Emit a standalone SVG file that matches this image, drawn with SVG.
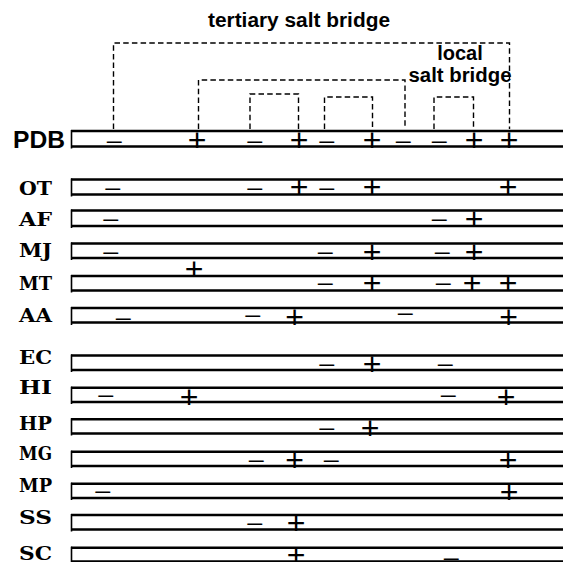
<svg xmlns="http://www.w3.org/2000/svg" width="563" height="562" viewBox="0 0 563 562">
<style>
.bg{fill:#fff}
.hl{stroke:#000;stroke-width:2.4;fill:none}
.vl{stroke:#000;stroke-width:1.6;fill:none}
.dash{stroke:#000;stroke-width:1.4;fill:none;stroke-dasharray:5.5 3.2}
.lab{font-family:"DejaVu Serif","Liberation Serif",serif;font-weight:bold;font-size:18px;fill:#000}
.pdb{font-family:"Liberation Sans",Arial,sans-serif;font-weight:bold;font-size:23px;fill:#000}
.ttl{font-family:"Liberation Sans",Arial,sans-serif;font-weight:bold;font-size:20px;fill:#000;text-anchor:middle}
.s{font-family:"Liberation Sans",Arial,sans-serif;font-size:32px;fill:#000;text-anchor:middle}
.m{font-family:"Liberation Serif","Times New Roman",serif;font-size:32px;fill:#000;text-anchor:middle}
</style>
<rect class="bg" x="0" y="0" width="563" height="562"/>

<g id="titles">
<text class="ttl" x="299" y="27" textLength="182" lengthAdjust="spacingAndGlyphs">tertiary salt bridge</text>
<text class="ttl" x="460" y="60">local</text>
<text class="ttl" x="460" y="82" textLength="103" lengthAdjust="spacingAndGlyphs">salt bridge</text>
</g>

<g id="connectors">
<path class="dash" d="M113.5,129 V43 H509.5 V129"/>
<path class="dash" d="M198.5,129 V80 H405 V129"/>
<path class="dash" d="M250,129 V94 H298.5 V129"/>
<path class="dash" d="M324.5,129 V97 H372.5 V129"/>
<path class="dash" d="M434,129 V97 H473.5 V129"/>
</g>

<g id="row-PDB">
<text class="pdb" x="13" y="148" textLength="52" lengthAdjust="spacingAndGlyphs">PDB</text>
<path class="hl" d="M563,131 H71 M71,146.5 H563"/>
<line class="vl" x1="71.5" y1="130" x2="71.5" y2="148.5"/>
<text class="m" x="114" y="153">−</text>
<text class="s" x="197" y="151.3">+</text>
<text class="m" x="254.5" y="153">−</text>
<text class="s" x="299" y="151.3">+</text>
<text class="m" x="326.5" y="153">−</text>
<text class="s" x="372" y="151.3">+</text>
<text class="m" x="403" y="153">−</text>
<text class="m" x="439" y="153">−</text>
<text class="s" x="474" y="151.3">+</text>
<text class="s" x="509" y="151.3">+</text>
</g>

<g id="row-OT">
<text class="lab" x="19" y="195" textLength="33" lengthAdjust="spacingAndGlyphs">OT</text>
<path class="hl" d="M563,179.5 H71 M71,194.5 H563"/>
<line class="vl" x1="71.5" y1="178.5" x2="71.5" y2="196.5"/>
<text class="m" x="112.5" y="199.7">−</text>
<text class="m" x="254.5" y="199.7">−</text>
<text class="s" x="299" y="198.3">+</text>
<text class="m" x="326.5" y="199.7">−</text>
<text class="s" x="372" y="198.3">+</text>
<text class="s" x="508" y="198.3">+</text>
</g>

<g id="row-AF">
<text class="lab" x="19" y="226" textLength="33" lengthAdjust="spacingAndGlyphs">AF</text>
<path class="hl" d="M563,210.5 H71 M71,226 H563"/>
<line class="vl" x1="71.5" y1="209.5" x2="71.5" y2="228"/>
<text class="m" x="110.5" y="231.3">−</text>
<text class="m" x="439" y="231.3">−</text>
<text class="s" x="474" y="229.8">+</text>
</g>

<g id="row-MJ">
<text class="lab" x="19" y="256.7" textLength="33" lengthAdjust="spacingAndGlyphs">MJ</text>
<path class="hl" d="M563,243.5 H71 M71,258 H563"/>
<line class="vl" x1="71.5" y1="242.5" x2="71.5" y2="260"/>
<text class="m" x="110.5" y="263.7">−</text>
<text class="s" x="194" y="279.5">+</text>
<text class="m" x="325" y="263.7">−</text>
<text class="s" x="372" y="262.5">+</text>
<text class="m" x="442" y="263.7">−</text>
<text class="s" x="474" y="262.5">+</text>
</g>

<g id="row-MT">
<text class="lab" x="19" y="290" textLength="33" lengthAdjust="spacingAndGlyphs">MT</text>
<path class="hl" d="M563,276 H71 M71,290.5 H563"/>
<line class="vl" x1="71.5" y1="275" x2="71.5" y2="292.5"/>
<text class="m" x="325" y="295.3">−</text>
<text class="s" x="372" y="294.3">+</text>
<text class="m" x="443" y="295.3">−</text>
<text class="s" x="472" y="294.3">+</text>
<text class="s" x="508" y="294.3">+</text>
</g>

<g id="row-AA">
<text class="lab" x="19" y="322" textLength="33" lengthAdjust="spacingAndGlyphs">AA</text>
<path class="hl" d="M563,308 H71 M71,322.5 H563"/>
<line class="vl" x1="71.5" y1="307" x2="71.5" y2="325"/>
<text class="m" x="123" y="329.7">−</text>
<text class="m" x="252.5" y="327.3">−</text>
<text class="s" x="294.5" y="328">+</text>
<text class="m" x="405" y="325.3">−</text>
<text class="s" x="508.5" y="328">+</text>
</g>

<g id="row-EC">
<text class="lab" x="19" y="364" textLength="33" lengthAdjust="spacingAndGlyphs">EC</text>
<path class="hl" d="M563,355.5 H71 M71,370 H563"/>
<line class="vl" x1="71.5" y1="354.5" x2="71.5" y2="372"/>
<text class="m" x="326.5" y="375.7">−</text>
<text class="s" x="372" y="374.5">+</text>
<text class="m" x="445" y="375.7">−</text>
</g>

<g id="row-HI">
<text class="lab" x="19" y="394.3" textLength="33" lengthAdjust="spacingAndGlyphs">HI</text>
<path class="hl" d="M563,387.7 H71 M71,402 H563"/>
<line class="vl" x1="71.5" y1="386.7" x2="71.5" y2="404"/>
<text class="m" x="105.5" y="407.3">−</text>
<text class="s" x="189" y="408">+</text>
<text class="m" x="448" y="407.3">−</text>
<text class="s" x="506" y="408">+</text>
</g>

<g id="row-HP">
<text class="lab" x="19" y="430" textLength="33" lengthAdjust="spacingAndGlyphs">HP</text>
<path class="hl" d="M563,419.3 H71 M71,433.5 H563"/>
<line class="vl" x1="71.5" y1="418.3" x2="71.5" y2="435.5"/>
<text class="m" x="326.5" y="439.7">−</text>
<text class="s" x="370" y="438.5">+</text>
</g>

<g id="row-MG">
<text class="lab" x="19" y="460" textLength="33" lengthAdjust="spacingAndGlyphs">MG</text>
<path class="hl" d="M563,451.7 H71 M71,466 H563"/>
<line class="vl" x1="71.5" y1="450.7" x2="71.5" y2="468"/>
<text class="m" x="256" y="472">−</text>
<text class="s" x="294.5" y="470.5">+</text>
<text class="m" x="331" y="472">−</text>
<text class="s" x="508" y="470.5">+</text>
</g>

<g id="row-MP">
<text class="lab" x="19" y="492" textLength="33" lengthAdjust="spacingAndGlyphs">MP</text>
<path class="hl" d="M563,483.7 H71 M71,498 H563"/>
<line class="vl" x1="71.5" y1="482.7" x2="71.5" y2="500"/>
<text class="m" x="102.5" y="503">−</text>
<text class="s" x="509" y="503">+</text>
</g>

<g id="row-SS">
<text class="lab" x="19" y="524" textLength="33" lengthAdjust="spacingAndGlyphs">SS</text>
<path class="hl" d="M563,515 H71 M71,529.5 H563"/>
<line class="vl" x1="71.5" y1="514" x2="71.5" y2="531.5"/>
<text class="m" x="254.5" y="534.7">−</text>
<text class="s" x="296" y="533.5">+</text>
</g>

<g id="row-SC">
<text class="lab" x="19" y="560" textLength="33" lengthAdjust="spacingAndGlyphs">SC</text>
<path class="hl" d="M563,547.7 H71 M71,561.5 H563"/>
<line class="vl" x1="71.5" y1="546.7" x2="71.5" y2="562"/>
<text class="s" x="296" y="566">+</text>
<text class="m" x="451" y="569.7">−</text>
</g>
</svg>
